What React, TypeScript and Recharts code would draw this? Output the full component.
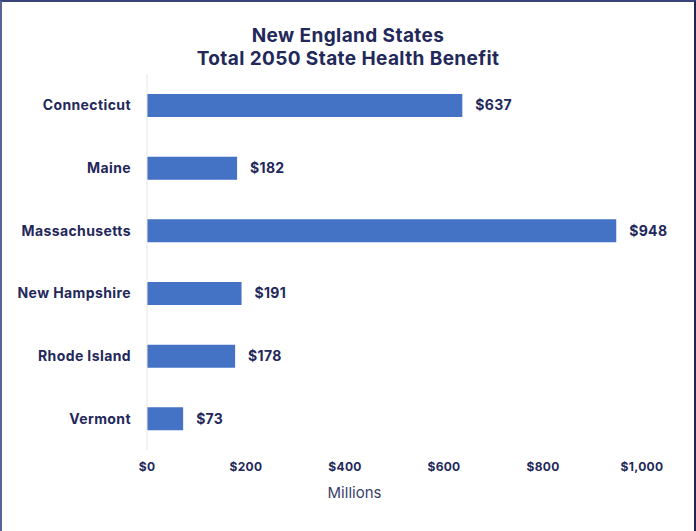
import React from 'react';
import { BarChart, Bar, XAxis, YAxis, LabelList } from 'recharts';

const states = ['Connecticut', 'Maine', 'Massachusetts', 'New Hampshire', 'Rhode Island', 'Vermont'];
const benefits = [637, 182, 948, 191, 178, 73];
const xTicks = [0, 200, 400, 600, 800, 1000];

const navy = '#23285a';

const fmt = (v: number) => '$' + v.toLocaleString('en-US');

const App = () => {
  const data = states.map((state, i) => ({ state, value: benefits[i] }));

  return (
    <div
      style={{
        position: 'absolute',
        left: 0,
        top: 0,
        width: 696,
        height: 531,
        background: '#fff',
        boxSizing: 'border-box',
        borderLeft: '2px solid #5a6499',
        borderTop: '2px solid #3a4478',
        borderRight: '2px solid #1f2656',
        fontFamily: 'Inter, Roboto, sans-serif',
      }}
    >
      <div
        style={{
          position: 'absolute',
          top: 22,
          left: 0,
          width: 692,
          textAlign: 'center',
          color: navy,
          fontWeight: 700,
          fontSize: 19,
          lineHeight: '23px',
          letterSpacing: 0.4,
        }}
      >
        New England States
        <br />
        Total 2050 State Health Benefit
      </div>
      <BarChart
        width={692}
        height={529}
        data={data}
        layout="vertical"
        margin={{ top: 72, right: 52, bottom: 29, left: 0 }}
        barCategoryGap={20}
        style={{ position: 'absolute', left: 0, top: 0 }}
      >
        <XAxis
          type="number"
          domain={[0, 1000]}
          ticks={xTicks}
          tickFormatter={fmt}
          axisLine={false}
          tickLine={false}
          tick={{ fill: navy, fontSize: 12, fontWeight: 700, letterSpacing: 0.3 }}
          tickMargin={6}
          height={52}
          label={{ value: 'Millions', position: 'insideBottom', offset: 4, dx: -40, fill: '#3a3f6a', fontSize: 15 }}
        />
        <YAxis
          type="category"
          dataKey="state"
          width={145}
          axisLine={{ stroke: '#e6e6e6' }}
          tickLine={false}
          tick={{ fill: navy, fontSize: 14, fontWeight: 700, letterSpacing: 0.4 }}
          tickMargin={10}
        />
        <Bar dataKey="value" fill="#4472c4" isAnimationActive={false}>
          <LabelList
            dataKey="value"
            position="right"
            offset={13}
            formatter={(v: any) => fmt(Number(v))}
            style={{ fill: navy, fontSize: 14, fontWeight: 700, letterSpacing: 0.3 }}
          />
        </Bar>
      </BarChart>
    </div>
  );
};

export default App;
